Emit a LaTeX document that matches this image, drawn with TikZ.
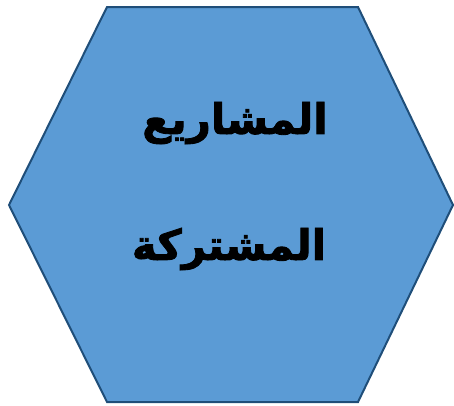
\documentclass[tikz,border=0pt]{standalone}
\usepackage{fontspec}
\newfontfamily\arabicfont[Script=Arabic, BoldFeatures={FakeBold=2}]{DejaVu Sans}
\TeXXeTstate=1
\begin{document}
\begin{tikzpicture}[x=1pt,y=-1pt,
  hexfill/.style={fill={rgb,255:red,91;green,155;blue,213}, draw={rgb,255:red,31;green,78;blue,121}, line width=2pt, line join=miter},
  arlabel/.style={font=\arabicfont\bfseries\fontsize{42}{50}\selectfont, text=black, inner sep=0pt}]
\useasboundingbox (0,0) rectangle (454,405);
\path[hexfill] (107,7) -- (358,7) -- (453,205) -- (358,402) -- (107,402) -- (9,205) -- cycle;
\node[arlabel] (l1) at (235,123) {\beginR المشاريع\endR};
\node[arlabel] (l2) at (229,249) {\beginR المشتركة\endR};
\end{tikzpicture}
\end{document}
